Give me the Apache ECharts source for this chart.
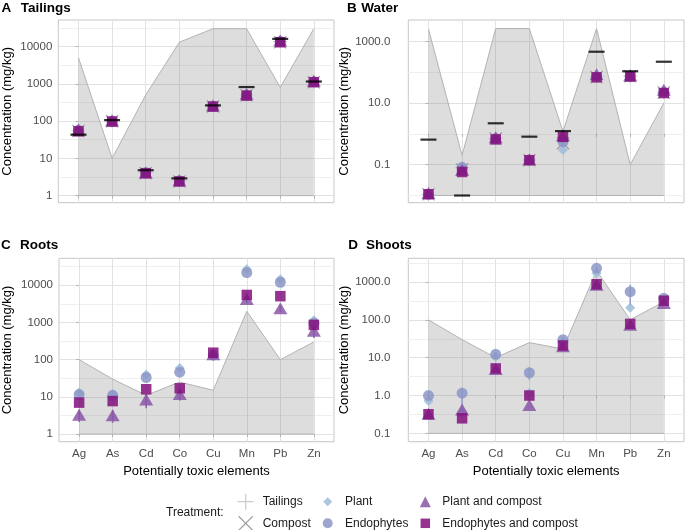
<!DOCTYPE html>
<html><head><meta charset="utf-8">
<script src="https://cdn.jsdelivr.net/npm/echarts@6/dist/echarts.min.js"></script>
<style>html,body{margin:0;padding:0;background:#fff}#c{width:685px;height:530px}</style>
</head><body><div id="c"></div>
<script>
// ---------------- data ----------------
const categories = ['Ag', 'As', 'Cd', 'Co', 'Cu', 'Mn', 'Pb', 'Zn'];
const treatments = ['Tailings', 'Compost', 'Plant', 'Endophytes', 'Plant and compost', 'Endophytes and compost'];

// A – Tailings
const tailingsTicks = [1, 10, 100, 1000, 10000];
const tailingsFloor = 1;
const tailingsLimit = [5000, 10, 500, 13000, 30000, 30000, 800, 30000];
const tailingsRef = [43, 106, 4.8, 2.9, 263, 816, 16000, 1150];
const tailingsTailings = [55, 100, 4.2, 2.5, 250, 500, 13500, 1100];
const tailingsCompost = [54, 98, 4.0, 2.4, 245, 490, 13000, 1100];
const tailingsPlant = [58, 101, 4.1, 2.5, 250, 520, 13500, 1150];
const tailingsEndophytes = [57, 100, 4.1, 2.5, 250, 500, 13500, 1130];
const tailingsPlantCompost = [60, 103, 4.2, 2.6, 262, 540, 14500, 1200];
const tailingsEndoCompost = [53, 97, 4.0, 2.4, 245, 480, 13000, 1100];

// B – Water
const waterTicks = [0.1, 10, 1000];
const waterFloor = 0.01;
const waterLimit = [2500, 0.2, 2600, 2600, 1.2, 2600, 0.1, 10];
const waterRef = [0.65, 0.01, 2.2, 0.81, 1.23, 460, 107, 218];
const waterTailings = [0.011, 0.08, 0.7, 0.14, 0.6, 72, 75, 22];
const waterCompost = [0.011, 0.07, 0.7, 0.14, 0.5, 70, 74, 22];
const waterPlant = [0.011, 0.088, 0.72, 0.14, 0.3, 75, 76, 23];
const waterEndophytes = [0.011, 0.082, 0.7, 0.14, 0.55, 70, 74, 22];
const waterPlantCompost = [0.012, 0.068, 0.78, 0.15, 0.9, 85, 80, 27];
const waterEndoCompost = [0.011, 0.058, 0.66, 0.14, 0.8, 68, 72, 21];

// C – Roots
const rootsTicks = [1, 10, 100, 1000, 10000];
const rootsFloor = 1;
const rootsLimit = [100, 30, 11, 25, 15, 2000, 100, 300];
const rootsPlant = [13, 12, 40, 60, 135, 27000, 14500, 1150];
const rootsEndophytes = [11.5, 11, 33, 46, 134, 22000, 12000, 950];
const rootsPlantCompost = [3.3, 3.2, 8.5, 12, 140, 4300, 2400, 600];
const rootsEndoCompost = [7, 7.7, 16, 17, 154, 5500, 5100, 860];
const rootsPlantCompostLow = [2.1, 2.0, 4.9, 7.9, 95, 3300, 1900, 380];
const rootsPlantCompostHigh = [4.5, 4.4, 12, 16, 185, 5200, 2900, 820];

// D – Shoots
const shootsTicks = [0.1, 1, 10, 100, 1000];
const shootsFloor = 0.1;
const shootsLimit = [100, 30, 10, 25, 17, 2000, 100, 300];
const shootsPlant = [0.72, 0.37, 10.6, 1.19, 25, 1700, 210, 320];
const shootsEndophytes = [1.0, 1.15, 12.3, 4.0, 30, 2300, 555, 370];
const shootsPlantCompost = [0.33, 0.43, 5, 0.56, 20, 850, 74, 280];
const shootsEndoCompost = [0.32, 0.25, 5.2, 1.0, 21, 870, 78, 320];
const shootsEndophytesLow = [0.8, 0.5, 10, 2.6, 25, 1800, 250, 330];
const shootsEndophytesHigh = [1.2, 1.6, 14, 5.5, 35, 2600, 850, 410];

// ---------------- styles ----------------
const FONT = '"Liberation Sans", Arial, sans-serif';
const PLUS = 'path://M4.6,0H5.4V4.6H10V5.4H5.4V10H4.6V5.4H0V4.6H4.6Z';
const CROSS = 'path://M0.6,0L5,4.4L9.4,0L10,0.6L5.6,5L10,9.4L9.4,10L5,5.6L0.6,10L0,9.4L4.4,5L0,0.6Z';
const tStyle = {
  'Tailings': { symbol: PLUS, size: 14, color: '#c4c4c4', leg: 16, cx: 245.7, cy: 501.7, tx: 262.7 },
  'Compost': { symbol: CROSS, size: 13, color: '#8e8e8e', leg: 15, cx: 245.7, cy: 523.3, tx: 262.7 },
  'Plant': { symbol: 'diamond', size: 10, color: '#9ebcda', leg: 9, cx: 327.7, cy: 501.7, tx: 345 },
  'Endophytes': { symbol: 'circle', size: 11, color: '#8c96c6', leg: 10, cx: 327.7, cy: 523.3, tx: 345 },
  'Plant and compost': { symbol: 'triangle', size: [14, 12], color: '#8856a7', leg: 11, cx: 425.3, cy: 501.7, tx: 442.3 },
  'Endophytes and compost': { symbol: 'rect', size: 10.5, color: '#810f7c', leg: 9.5, cx: 425.3, cy: 523.3, tx: 442.3 }
};

const panels = [
  { tag: 'A', title: 'Tailings', tagX: 1.5, titleX: 20.7, titleTop: 1,
    grid: { left: 58.3, top: 20, width: 275.7, height: 182.7 }, y: [-0.19, 4.71],
    ticks: tailingsTicks, dec: 0, floor: tailingsFloor, limit: tailingsLimit, ref: tailingsRef,
    pts: [tailingsTailings, tailingsCompost, tailingsPlant, tailingsEndophytes, tailingsPlantCompost, tailingsEndoCompost],
    err: [], showX: false, nameGap: 44, labelMargin: 6 },
  { tag: 'B', title: 'Water', tagX: 347, titleX: 361.3, titleTop: 1,
    grid: { left: 408.3, top: 20, width: 275.7, height: 182.7 }, y: [-2.233, 3.692],
    ticks: waterTicks, dec: 1, floor: waterFloor, limit: waterLimit, ref: waterRef,
    pts: [waterTailings, waterCompost, waterPlant, waterEndophytes, waterPlantCompost, waterEndoCompost],
    err: [], showX: false, nameGap: 50, labelMargin: 18 },
  { tag: 'C', title: 'Roots', tagX: 1, titleX: 20, titleTop: 238.5,
    grid: { left: 58.3, top: 258.3, width: 275.7, height: 183.4 }, y: [-0.206, 4.726],
    ticks: rootsTicks, dec: 0, floor: rootsFloor, limit: rootsLimit, ref: null,
    pts: [null, null, rootsPlant, rootsEndophytes, rootsPlantCompost, rootsEndoCompost],
    err: [{ t: 'Plant and compost', low: rootsPlantCompostLow, high: rootsPlantCompostHigh }],
    showX: true, nameGap: 45, labelMargin: 6 },
  { tag: 'D', title: 'Shoots', tagX: 348.3, titleX: 366, titleTop: 238.5,
    grid: { left: 408.3, top: 258.3, width: 275.7, height: 183.4 }, y: [-1.22, 3.626],
    ticks: shootsTicks, dec: 1, floor: shootsFloor, limit: shootsLimit, ref: null,
    pts: [null, null, shootsPlant, shootsEndophytes, shootsPlantCompost, shootsEndoCompost],
    err: [{ t: 'Endophytes', low: shootsEndophytesLow, high: shootsEndophytesHigh }],
    showX: true, nameGap: 50, labelMargin: 18 }
];

const lg = Math.log10;
const catIdx = categories.map((c, i) => i);
const grids = [], xAxes = [], yAxes = [], series = [], titles = [];

panels.forEach((p, k) => {
  grids.push(Object.assign({ show: true, borderColor: '#c6c6c6', borderWidth: 1, backgroundColor: 'transparent' }, p.grid));
  const major = p.ticks.map(lg);
  const step = major[1] - major[0];
  const minor = [];
  for (let i = -1; i < major.length; i++) {
    const a = i < 0 ? major[0] - step : major[i];
    const m = a + step / 2;
    if (m > p.y[0] && m < p.y[1]) minor.push(m);
  }
  xAxes.push({
    gridIndex: k, type: 'value', min: -0.6, max: 7.6,
    axisLine: { show: false },
    axisTick: { show: true, customValues: catIdx, length: 3, lineStyle: { color: '#b3b3b3' } },
    axisLabel: { show: p.showX, customValues: catIdx, formatter: v => categories[Math.round(v)],
      margin: 6.5, fontSize: 11.5, color: '#4d4d4d', fontFamily: FONT },
    splitLine: { show: true, lineStyle: { color: '#e2e2e2', width: 1 } },
    name: p.showX ? 'Potentially toxic elements' : '', nameLocation: 'middle', nameGap: 23,
    nameTextStyle: { fontSize: 13, color: '#000', fontFamily: FONT }
  });
  yAxes.push({
    gridIndex: k, type: 'value', min: p.y[0], max: p.y[1], position: 'left',
    axisLine: { show: false },
    axisTick: { show: true, customValues: major, length: 3, lineStyle: { color: '#b3b3b3' } },
    axisLabel: { customValues: major, formatter: v => Math.pow(10, v).toFixed(p.dec),
      margin: p.labelMargin, fontSize: 11.5, color: '#4d4d4d', fontFamily: FONT },
    splitLine: { show: true, lineStyle: { color: '#e2e2e2', width: 1 } },
    name: 'Concentration (mg/kg)', nameLocation: 'middle', nameGap: p.nameGap,
    nameTextStyle: { fontSize: 13, color: '#000', fontFamily: FONT }
  });
  const yi = yAxes.length - 1;
  yAxes.push({
    gridIndex: k, type: 'value', min: p.y[0], max: p.y[1], position: 'right',
    axisLine: { show: false },
    axisTick: { show: false, customValues: minor },
    axisLabel: { show: false, customValues: minor },
    splitLine: { show: true, lineStyle: { color: '#efefef', width: 1 } }
  });
  const base = lg(p.floor);
  // ribbon (threshold band from floor to limit)
  series.push({
    type: 'custom', xAxisIndex: k, yAxisIndex: yi, silent: true, z: 1,
    data: p.limit.map((v, i) => [i, lg(v), base]),
    encode: { x: 0, y: [1, 2] },
    renderItem: (params, api) => {
      if (params.dataIndex !== 0) return null;
      const upper = p.limit.map((v, i) => api.coord([i, lg(v)]));
      const lower = p.limit.map((v, i) => api.coord([i, base]));
      return { type: 'group', children: [
        { type: 'polygon', shape: { points: upper.concat(lower.slice().reverse()) },
          style: { fill: 'rgba(120,120,120,0.25)', stroke: null } },
        { type: 'polyline', shape: { points: upper }, style: { stroke: '#b3b3b3', lineWidth: 1, fill: null } },
        { type: 'polyline', shape: { points: lower }, style: { stroke: '#b3b3b3', lineWidth: 1, fill: null } }
      ] };
    }
  });
  // error bars
  p.err.forEach(e => {
    const s = tStyle[e.t];
    series.push({
      type: 'custom', xAxisIndex: k, yAxisIndex: yi, silent: true,
      z: 3 + treatments.indexOf(e.t) * 0.01 - 0.005,
      data: e.low.map((v, i) => [i, lg(v), lg(e.high[i])]),
      encode: { x: 0, y: [1, 2] },
      renderItem: (params, api) => {
        const a = api.coord([api.value(0), api.value(1)]);
        const b = api.coord([api.value(0), api.value(2)]);
        return { type: 'line', shape: { x1: a[0], y1: a[1], x2: b[0], y2: b[1] },
          style: { stroke: s.color, lineWidth: 1.6, opacity: 0.85 } };
      }
    });
  });
  // treatments
  treatments.forEach((t, j) => {
    const arr = p.pts[j];
    if (!arr) return;
    const s = tStyle[t];
    series.push({
      type: 'scatter', name: t, xAxisIndex: k, yAxisIndex: yi, z: 3 + j * 0.01,
      data: arr.map((v, i) => [i, lg(v)]), symbol: s.symbol, symbolSize: s.size,
      itemStyle: { color: s.color, opacity: 0.85 }
    });
  });
  if (p.ref) {
    series.push({
      type: 'scatter', xAxisIndex: k, yAxisIndex: yi, z: 5, silent: true,
      data: p.ref.map((v, i) => [i, lg(v)]), symbol: 'rect', symbolSize: [16, 2.2],
      itemStyle: { color: '#000' }
    });
  }
  const ts = { fontSize: 13.5, fontWeight: 'bold', color: '#000', fontFamily: FONT };
  titles.push({ text: p.tag, left: p.tagX, top: p.titleTop, padding: 0, textStyle: ts });
  titles.push({ text: p.title, left: p.titleX, top: p.titleTop, padding: 0, textStyle: ts });
});

titles.push({ text: 'Treatment:', left: 166, top: 506, padding: 0,
  textStyle: { fontSize: 12, fontWeight: 'normal', color: '#1a1a1a', fontFamily: FONT, lineHeight: 14 } });

const legends = treatments.map(t => {
  const s = tStyle[t];
  const left = s.cx - s.leg / 2;
  const pad = s.tx - (left + s.leg + 5);
  return {
    data: [t], left: left, top: s.cy - Math.max(s.leg, 14) / 2, padding: 0, selectedMode: false,
    itemWidth: s.leg, itemHeight: s.leg,
    textStyle: { fontSize: 12, color: '#1a1a1a', fontFamily: FONT, padding: [0, 0, 0, pad], lineHeight: 14 }
  };
});

const chart = echarts.init(document.getElementById('c'), null, { renderer: 'canvas' });
chart.setOption({
  animation: false,
  backgroundColor: '#fff',
  textStyle: { fontFamily: FONT },
  title: titles,
  legend: legends,
  grid: grids,
  xAxis: xAxes,
  yAxis: yAxes,
  series: series
});
</script></body></html>
